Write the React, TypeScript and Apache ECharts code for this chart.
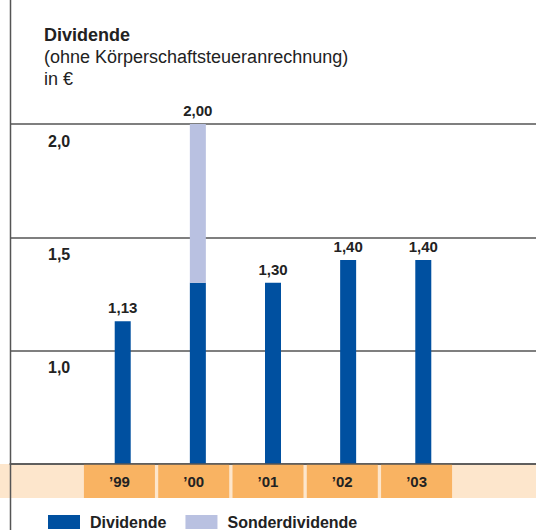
import React, { useEffect, useRef } from "react";
import * as echarts from "echarts";

const categories = ["", "’99", "’00", "’01", "’02", "’03", ""];
const dividende = [null, 1.13, 1.3, 1.3, 1.4, 1.4, null];
const sonderdividende = [null, null, 0.7, null, null, null, null];
const yMin = 0.5;
const yMax = 2.0;
const yInterval = 0.5;

const FONT = '"Liberation Sans", Arial, Helvetica, sans-serif';
const BLUE = "#0050a0";
const LIGHT = "#b9c1e1";
const ORANGE = "#f9b362";
const PEACH = "#fde6cc";
const LINE = "#555555";
const TEXT = "#222222";

const fmt2 = (v: number) => v.toFixed(2).replace(".", ",");
const fmt1 = (v: number) => v.toFixed(1).replace(".", ",");

export default function App() {
  const ref = useRef<HTMLDivElement>(null);
  useEffect(() => {
    if (!ref.current) return;
    const chart = echarts.init(ref.current, null, { renderer: "svg" });
    const divData = dividende.map((v, i) =>
      v == null
        ? null
        : {
            value: v,
            label: { show: !(sonderdividende[i] != null && (sonderdividende[i] as number) > 0) },
          }
    );
    const sonderData = sonderdividende.map((v, i) =>
      v == null ? null : { value: v, total: (dividende[i] || 0) + v }
    );
    const labelStyle = {
      show: true,
      position: "top" as const,
      distance: 6,
      color: TEXT,
      fontFamily: FONT,
      fontWeight: "bold" as const,
      fontSize: 15,
    };
    chart.setOption({
      animation: false,
      textStyle: { fontFamily: FONT },
      title: {
        left: 44,
        top: 24,
        padding: 0,
        text: "{b|Dividende}\n{n|(ohne Körperschaftsteueranrechnung)}\n{n|in €}",
        textStyle: {
          rich: {
            b: { fontFamily: FONT, fontSize: 18, fontWeight: "bold", color: TEXT, lineHeight: 22 },
            n: { fontFamily: FONT, fontSize: 18, fontWeight: "normal", color: TEXT, lineHeight: 22 },
          },
        },
      },
      legend: {
        left: 48,
        top: 514,
        padding: 0,
        itemWidth: 32,
        itemHeight: 14,
        itemGap: 19,
        icon: "rect",
        textStyle: { fontFamily: FONT, fontSize: 16, fontWeight: "bold", color: TEXT, padding: [0, 0, 0, 5] },
        data: ["Dividende", "Sonderdividende"],
      },
      graphic: [
        {
          type: "rect",
          z: -1,
          shape: { x: 0, y: 464, width: 536, height: 34 },
          style: { fill: PEACH },
        },
        {
          type: "line",
          z: 100,
          shape: { x1: 10.5, y1: 0, x2: 10.5, y2: 530 },
          style: { stroke: LINE, lineWidth: 1.5 },
        },
      ],
      grid: [
        { left: 10, width: 529, top: 124, height: 340 },
        { left: 8, width: 520, top: 430, height: 34 },
      ],
      xAxis: [
        {
          type: "category",
          gridIndex: 0,
          data: categories,
          axisLine: { show: true, lineStyle: { color: LINE, width: 1.5 } },
          axisTick: { show: false },
          axisLabel: { show: false },
          splitLine: { show: false },
          z: 5,
        },
        {
          type: "category",
          gridIndex: 1,
          data: categories,
          position: "bottom",
          axisLine: { show: false },
          axisTick: { show: false },
          splitLine: { show: false },
          axisLabel: {
            margin: 0,
            interval: 0,
            formatter: (v: string) => (v ? `{box|${v}}` : ""),
            rich: {
              box: {
                backgroundColor: ORANGE,
                width: 71,
                height: 34,
                lineHeight: 34,
                align: "center",
                fontFamily: FONT,
                fontSize: 15,
                fontWeight: "bold",
                color: TEXT,
              },
            },
          },
        },
      ],
      yAxis: [
        {
          type: "value",
          gridIndex: 0,
          min: yMin,
          max: yMax,
          interval: yInterval,
          axisLine: { show: false },
          axisTick: { show: false },
          splitLine: { show: true, lineStyle: { color: LINE, width: 1.5 } },
          axisLabel: {
            inside: true,
            margin: 38,
            align: "left",
            verticalAlign: "top",
            padding: [9, 0, 0, 0],
            showMinLabel: false,
            formatter: (v: number) => fmt1(v),
            fontFamily: FONT,
            fontSize: 16,
            fontWeight: "bold",
            color: TEXT,
          },
        },
        { type: "value", gridIndex: 1, show: false },
      ],
      series: [
        {
          name: "Dividende",
          type: "bar",
          stack: "d",
          xAxisIndex: 0,
          yAxisIndex: 0,
          barWidth: 16,
          itemStyle: { color: BLUE },
          label: { ...labelStyle, formatter: (p: any) => fmt2(p.value) },
          data: divData,
        },
        {
          name: "Sonderdividende",
          type: "bar",
          stack: "d",
          xAxisIndex: 0,
          yAxisIndex: 0,
          barWidth: 16,
          itemStyle: { color: LIGHT },
          label: { ...labelStyle, formatter: (p: any) => fmt2(p.data.total) },
          data: sonderData,
        },
      ],
    });
    return () => chart.dispose();
  }, []);
  return (
    <div
      ref={ref}
      style={{ position: "absolute", left: 0, top: 0, width: 536, height: 530 }}
    />
  );
}
